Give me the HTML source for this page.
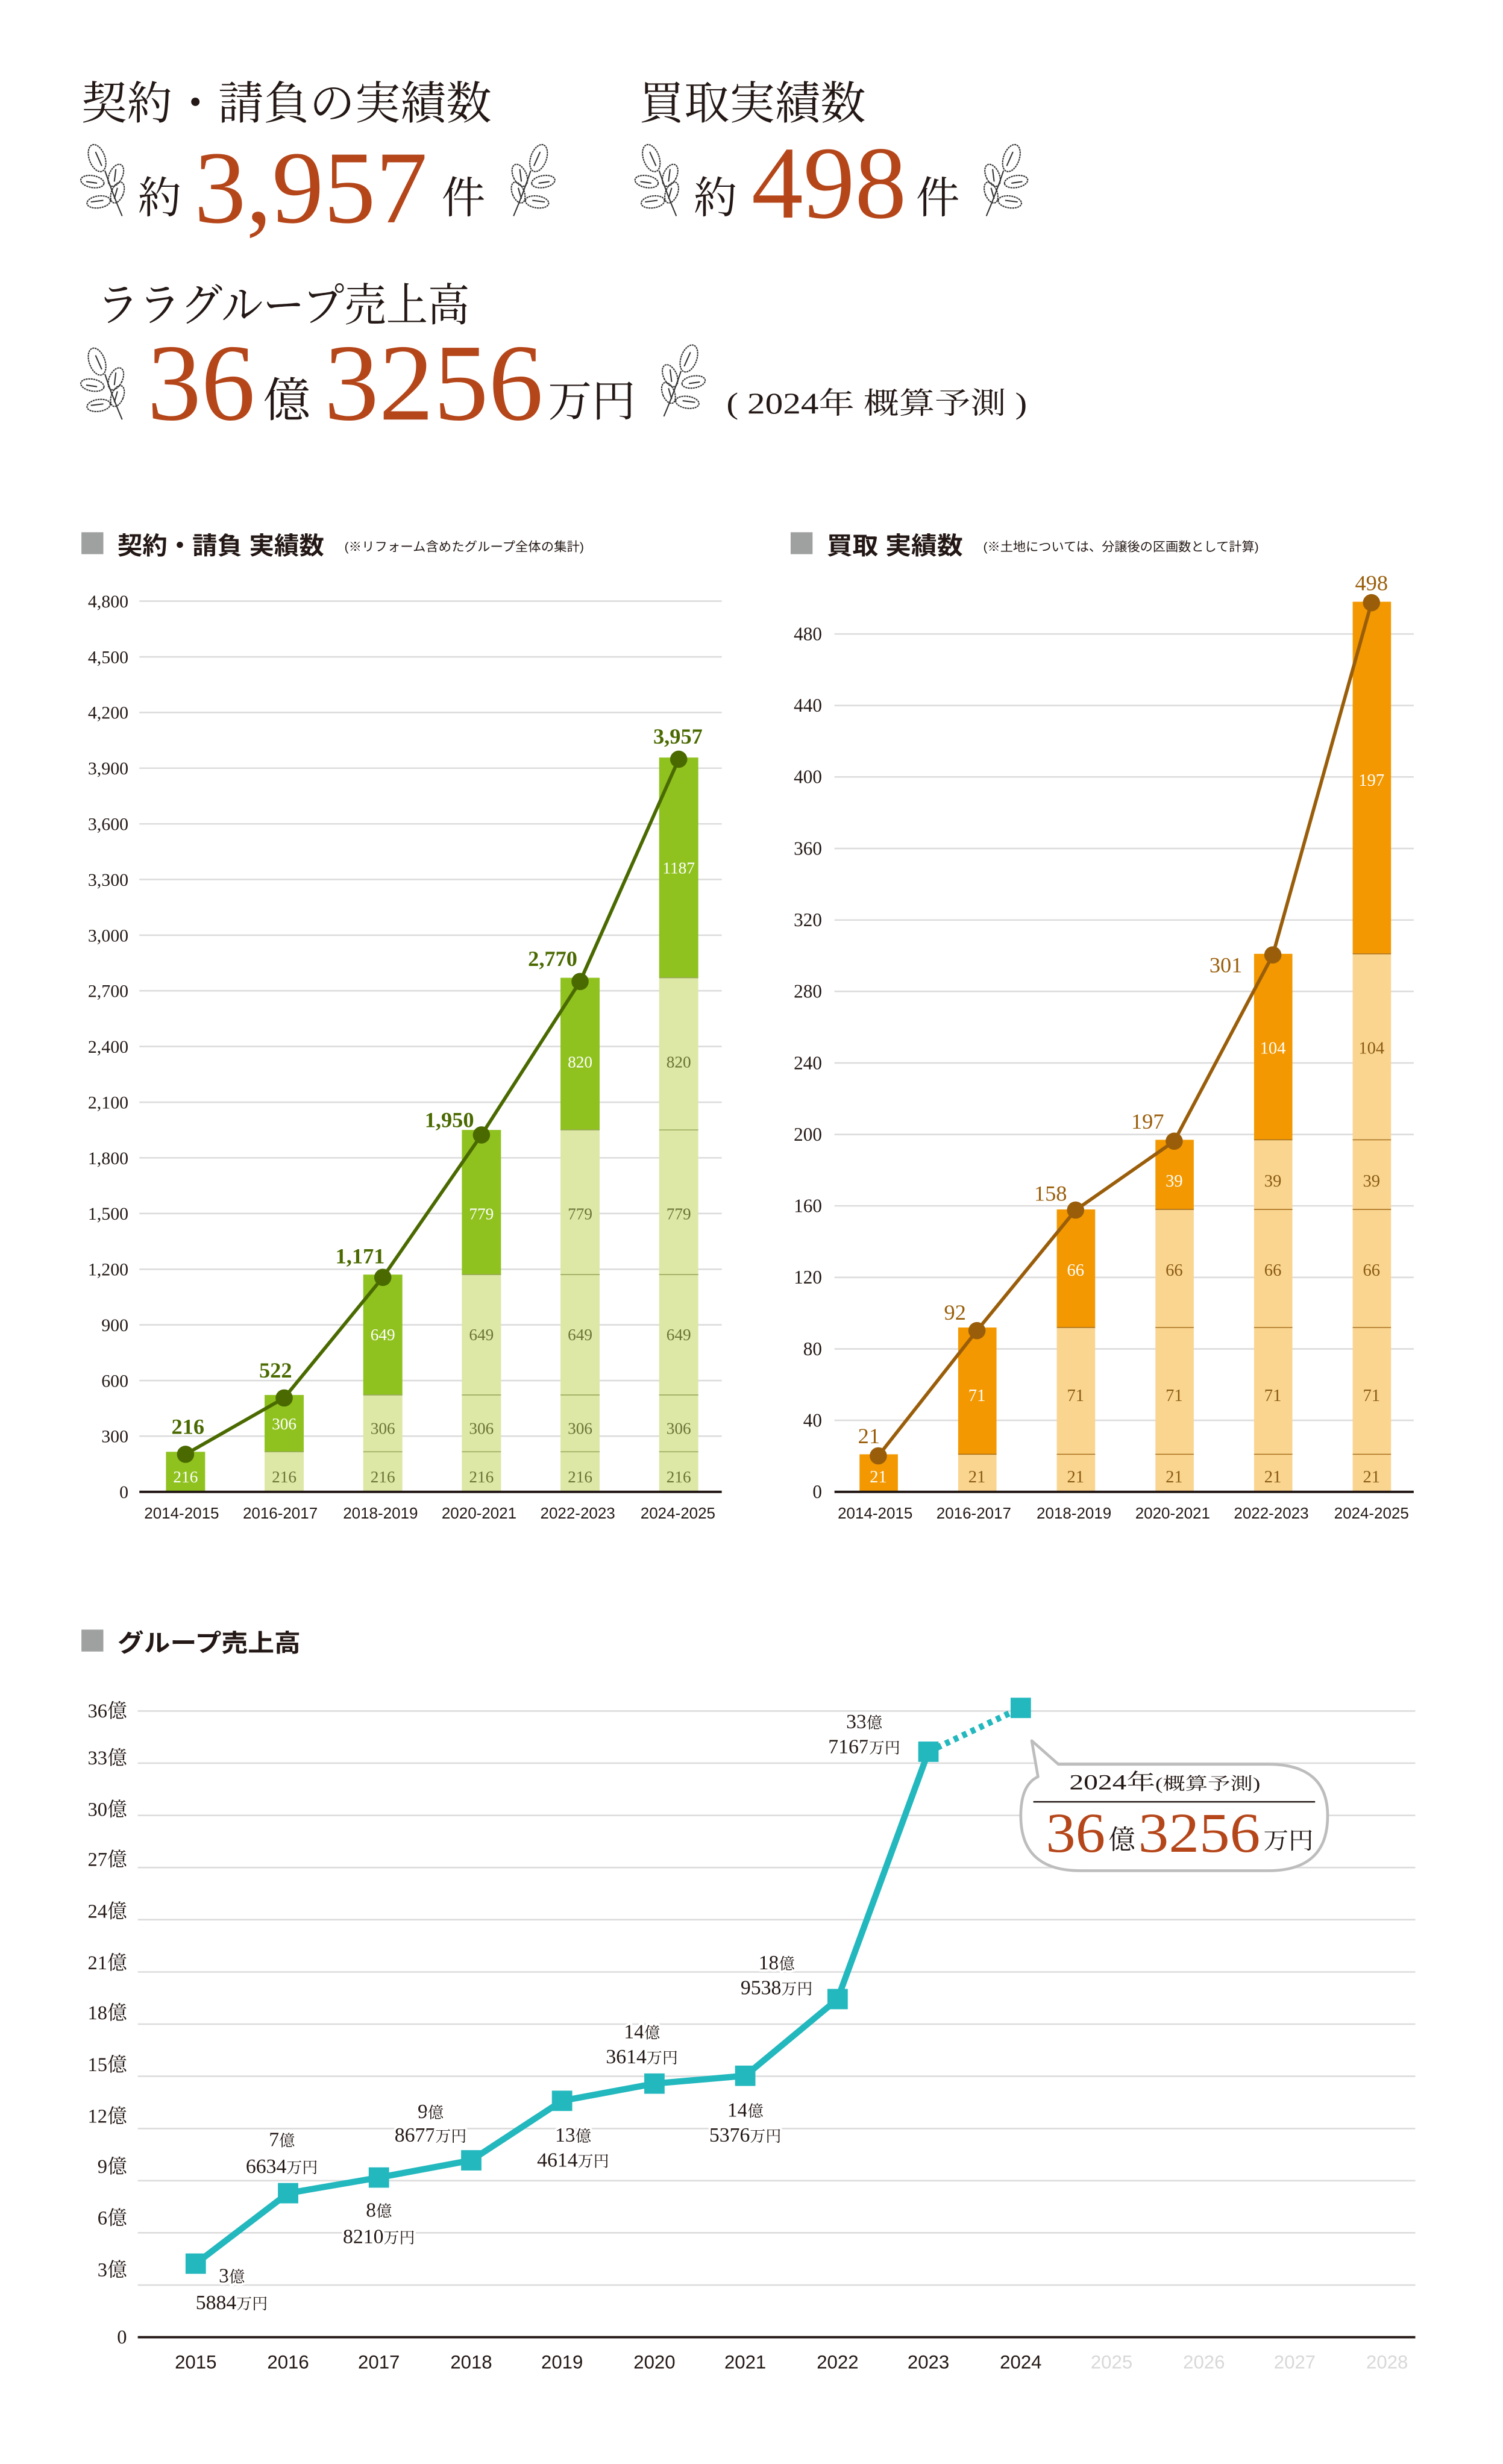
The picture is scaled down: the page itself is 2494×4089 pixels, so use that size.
<!DOCTYPE html>
<html><head><meta charset="utf-8"><style>
html,body{margin:0;padding:0;background:#fff;}
svg{display:block;}
.s{font-family:"Liberation Serif","Noto Serif CJK JP",serif;}
.g{font-family:"Liberation Sans","Noto Sans CJK JP",sans-serif;}
.h{paint-order:stroke;stroke:#fff;stroke-width:3px;stroke-linejoin:round;}
</style></head><body>
<svg width="2494" height="4089" viewBox="0 0 960 1574" xmlns="http://www.w3.org/2000/svg">
<defs>
<g id="leaf" fill="none" stroke="#333" stroke-width="0.8" stroke-dasharray="1.2 0.4">
<path d="M15 17 Q20 32 26 46" stroke-dasharray="none"/>
<ellipse cx="10" cy="9" rx="5" ry="9" transform="rotate(-20 10 9)"/>
<ellipse cx="22" cy="20" rx="4.2" ry="7.5" transform="rotate(25 22 20)"/>
<ellipse cx="7" cy="24" rx="7.5" ry="3.8" transform="rotate(10 7 24)"/>
<ellipse cx="23" cy="31" rx="3.8" ry="7" transform="rotate(22 23 31)"/>
<ellipse cx="11" cy="37" rx="7.5" ry="3.8" transform="rotate(-8 11 37)"/>
<path d="M9 5 L13 14 M22 16 L21 24 M3 24 L10 25 M23 28 L21 35 M6 37 L14 36" stroke-dasharray="none"/>
</g>
</defs>

<!-- Top headers -->
<g class="s" fill="#231815">
<text x="52" y="76" font-size="29" textLength="262" lengthAdjust="spacingAndGlyphs">契約・請負の実績数</text>
<text x="408" y="76" font-size="29" textLength="145" lengthAdjust="spacingAndGlyphs">買取実績数</text>
<text x="62" y="205" font-size="29" textLength="238" lengthAdjust="spacingAndGlyphs">ララグループ売上高</text>
</g>
<use href="#leaf" x="52" y="92"/>
<use href="#leaf" transform="translate(354,92) scale(-1,1)"/>
<use href="#leaf" x="406" y="92"/>
<use href="#leaf" transform="translate(656,92) scale(-1,1)"/>
<use href="#leaf" x="52" y="222"/>
<use href="#leaf" transform="translate(450,220) scale(-1,1)"/>
<g class="s">
<text x="88" y="136" font-size="28" fill="#231815" textLength="28" lengthAdjust="spacingAndGlyphs">約</text>
<text x="124" y="142" font-size="66" fill="#b5461a" textLength="149" lengthAdjust="spacingAndGlyphs">3,957</text>
<text x="282" y="136" font-size="28" fill="#231815" textLength="28" lengthAdjust="spacingAndGlyphs">件</text>
<text x="443" y="136" font-size="28" fill="#231815" textLength="28" lengthAdjust="spacingAndGlyphs">約</text>
<text x="480" y="139" font-size="66" fill="#b5461a" textLength="99" lengthAdjust="spacingAndGlyphs">498</text>
<text x="585" y="136" font-size="28" fill="#231815" textLength="28" lengthAdjust="spacingAndGlyphs">件</text>
<text x="94" y="268" font-size="70" fill="#b5461a" textLength="69" lengthAdjust="spacingAndGlyphs">36</text>
<text x="168" y="266" font-size="30" fill="#231815" textLength="30" lengthAdjust="spacingAndGlyphs">億</text>
<text x="207" y="268" font-size="70" fill="#b5461a" textLength="140" lengthAdjust="spacingAndGlyphs">3256</text>
<text x="350" y="266" font-size="28" fill="#231815" textLength="56" lengthAdjust="spacingAndGlyphs">万円</text>
<text x="464" y="264" font-size="19" fill="#231815" textLength="192" lengthAdjust="spacingAndGlyphs">( 2024年 概算予測 )</text>
</g>

<!-- ===== Chart 1 ===== -->
<rect x="52" y="340" width="14" height="14" fill="#9fa0a0"/>
<text class="g" x="75" y="354" font-size="15.5" font-weight="bold" fill="#231815" textLength="132" lengthAdjust="spacingAndGlyphs">契約・請負 実績数</text>
<text class="g" x="220" y="352" font-size="8" fill="#231815" textLength="153" lengthAdjust="spacingAndGlyphs">(※リフォーム含めたグループ全体の集計)</text>
<g stroke="#dcdcdc" stroke-width="1">
<line x1="89" x2="461" y1="917.4" y2="917.4"/><line x1="89" x2="461" y1="881.9" y2="881.9"/>
<line x1="89" x2="461" y1="846.3" y2="846.3"/><line x1="89" x2="461" y1="810.8" y2="810.8"/>
<line x1="89" x2="461" y1="775.2" y2="775.2"/><line x1="89" x2="461" y1="739.6" y2="739.6"/>
<line x1="89" x2="461" y1="704.1" y2="704.1"/><line x1="89" x2="461" y1="668.5" y2="668.5"/>
<line x1="89" x2="461" y1="632.9" y2="632.9"/><line x1="89" x2="461" y1="597.4" y2="597.4"/>
<line x1="89" x2="461" y1="561.8" y2="561.8"/><line x1="89" x2="461" y1="526.3" y2="526.3"/>
<line x1="89" x2="461" y1="490.7" y2="490.7"/><line x1="89" x2="461" y1="455.1" y2="455.1"/>
<line x1="89" x2="461" y1="419.6" y2="419.6"/><line x1="89" x2="461" y1="384" y2="384"/>
</g>
<g class="s" font-size="11.5" fill="#231815" text-anchor="end">
<text x="82" y="957">0</text><text x="82" y="921.4">300</text><text x="82" y="885.9">600</text>
<text x="82" y="850.3">900</text><text x="82" y="814.8">1,200</text><text x="82" y="779.2">1,500</text>
<text x="82" y="743.6">1,800</text><text x="82" y="708.1">2,100</text><text x="82" y="672.5">2,400</text>
<text x="82" y="636.9">2,700</text><text x="82" y="601.4">3,000</text><text x="82" y="565.8">3,300</text>
<text x="82" y="530.3">3,600</text><text x="82" y="494.7">3,900</text><text x="82" y="459.1">4,200</text>
<text x="82" y="423.6">4,500</text><text x="82" y="388">4,800</text>
</g>
<!-- bars chart1 -->
<g>
<rect x="106" y="927.4" width="25" height="25.6" fill="#8fc21f"/>
<rect x="169" y="927.4" width="25" height="25.6" fill="#dde8a6"/>
<rect x="169" y="891.1" width="25" height="36.3" fill="#8fc21f"/>
<rect x="232" y="891.1" width="25" height="61.9" fill="#dde8a6"/>
<rect x="232" y="814.2" width="25" height="76.9" fill="#8fc21f"/>
<rect x="295" y="814.2" width="25" height="138.8" fill="#dde8a6"/>
<rect x="295" y="721.8" width="25" height="92.4" fill="#8fc21f"/>
<rect x="358" y="721.8" width="25" height="231.2" fill="#dde8a6"/>
<rect x="358" y="624.6" width="25" height="97.2" fill="#8fc21f"/>
<rect x="421" y="624.6" width="25" height="328.4" fill="#dde8a6"/>
<rect x="421" y="483.9" width="25" height="140.7" fill="#8fc21f"/>
</g>
<g stroke="#98a85a" stroke-width="0.6">
<line x1="169" x2="194" y1="927.4" y2="927.4"/>
<line x1="232" x2="257" y1="927.4" y2="927.4"/><line x1="232" x2="257" y1="891.1" y2="891.1"/>
<line x1="295" x2="320" y1="927.4" y2="927.4"/><line x1="295" x2="320" y1="891.1" y2="891.1"/><line x1="295" x2="320" y1="814.2" y2="814.2"/>
<line x1="358" x2="383" y1="927.4" y2="927.4"/><line x1="358" x2="383" y1="891.1" y2="891.1"/><line x1="358" x2="383" y1="814.2" y2="814.2"/><line x1="358" x2="383" y1="721.8" y2="721.8"/>
<line x1="421" x2="446" y1="927.4" y2="927.4"/><line x1="421" x2="446" y1="891.1" y2="891.1"/><line x1="421" x2="446" y1="814.2" y2="814.2"/><line x1="421" x2="446" y1="721.8" y2="721.8"/><line x1="421" x2="446" y1="624.6" y2="624.6"/>
</g>
<line x1="89" x2="461" y1="953" y2="953" stroke="#231815" stroke-width="1.5"/>
<g class="s" font-size="10.5" text-anchor="middle">
<text x="118.5" y="947" fill="#fff">216</text>
<text x="181.5" y="947" fill="#6b7335">216</text><text x="181.5" y="913" fill="#fff">306</text>
<text x="244.5" y="947" fill="#6b7335">216</text><text x="244.5" y="916" fill="#6b7335">306</text><text x="244.5" y="856" fill="#fff">649</text>
<text x="307.5" y="947" fill="#6b7335">216</text><text x="307.5" y="916" fill="#6b7335">306</text><text x="307.5" y="856" fill="#6b7335">649</text><text x="307.5" y="779" fill="#fff">779</text>
<text x="370.5" y="947" fill="#6b7335">216</text><text x="370.5" y="916" fill="#6b7335">306</text><text x="370.5" y="856" fill="#6b7335">649</text><text x="370.5" y="779" fill="#6b7335">779</text><text x="370.5" y="682" fill="#fff">820</text>
<text x="433.5" y="947" fill="#6b7335">216</text><text x="433.5" y="916" fill="#6b7335">306</text><text x="433.5" y="856" fill="#6b7335">649</text><text x="433.5" y="779" fill="#6b7335">779</text><text x="433.5" y="682" fill="#6b7335">820</text><text x="433.5" y="558" fill="#fff">1187</text>
</g>
<polyline points="118.5,929 181.5,893 244.5,816 307.5,725 370.5,627 433.5,485" fill="none" stroke="#4a6a00" stroke-width="2.2"/>
<g fill="#4a6a00">
<circle cx="118.5" cy="929" r="5.5"/><circle cx="181.5" cy="893" r="5.5"/><circle cx="244.5" cy="816" r="5.5"/>
<circle cx="307.5" cy="725" r="5.5"/><circle cx="370.5" cy="627" r="5.5"/><circle cx="433.5" cy="485" r="5.5"/>
</g>
<g class="s" font-size="14" font-weight="bold" fill="#4a6a00" text-anchor="middle">
<text x="120" y="916">216</text><text x="176" y="880">522</text><text x="230" y="807">1,171</text>
<text x="287" y="720">1,950</text><text x="353" y="617">2,770</text><text x="433" y="475">3,957</text>
</g>
<g class="g" font-size="10" fill="#231815" text-anchor="middle">
<text x="116" y="970">2014-2015</text><text x="179" y="970">2016-2017</text><text x="243" y="970">2018-2019</text>
<text x="306" y="970">2020-2021</text><text x="369" y="970">2022-2023</text><text x="433" y="970">2024-2025</text>
</g>

<!-- ===== Chart 2 ===== -->
<rect x="505" y="340" width="14" height="14" fill="#9fa0a0"/>
<text class="g" x="528" y="354" font-size="15.5" font-weight="bold" fill="#231815" textLength="87" lengthAdjust="spacingAndGlyphs">買取 実績数</text>
<text class="g" x="628" y="352" font-size="8" fill="#231815" textLength="176" lengthAdjust="spacingAndGlyphs">(※土地については、分譲後の区画数として計算)</text>
<g stroke="#dcdcdc" stroke-width="1">
<line x1="533" x2="903" y1="907.3" y2="907.3"/><line x1="533" x2="903" y1="861.7" y2="861.7"/>
<line x1="533" x2="903" y1="816" y2="816"/><line x1="533" x2="903" y1="770.3" y2="770.3"/>
<line x1="533" x2="903" y1="724.7" y2="724.7"/><line x1="533" x2="903" y1="679" y2="679"/>
<line x1="533" x2="903" y1="633.3" y2="633.3"/><line x1="533" x2="903" y1="587.7" y2="587.7"/>
<line x1="533" x2="903" y1="542" y2="542"/><line x1="533" x2="903" y1="496.3" y2="496.3"/>
<line x1="533" x2="903" y1="450.7" y2="450.7"/><line x1="533" x2="903" y1="405" y2="405"/>
</g>
<g class="s" font-size="12" fill="#231815" text-anchor="end">
<text x="525" y="957">0</text><text x="525" y="911.3">40</text><text x="525" y="865.7">80</text>
<text x="525" y="820">120</text><text x="525" y="774.3">160</text><text x="525" y="728.7">200</text>
<text x="525" y="683">240</text><text x="525" y="637.3">280</text><text x="525" y="591.7">320</text>
<text x="525" y="546">360</text><text x="525" y="500.3">400</text><text x="525" y="454.7">440</text>
<text x="525" y="409">480</text>
</g>
<g>
<rect x="549" y="929" width="24.5" height="24" fill="#f39800"/>
<rect x="612" y="929" width="24.5" height="24" fill="#fad590"/>
<rect x="612" y="848" width="24.5" height="81" fill="#f39800"/>
<rect x="675" y="848" width="24.5" height="105" fill="#fad590"/>
<rect x="675" y="772.6" width="24.5" height="75.4" fill="#f39800"/>
<rect x="738" y="772.6" width="24.5" height="180.4" fill="#fad590"/>
<rect x="738" y="728.1" width="24.5" height="44.5" fill="#f39800"/>
<rect x="801" y="728.1" width="24.5" height="224.9" fill="#fad590"/>
<rect x="801" y="609.3" width="24.5" height="118.8" fill="#f39800"/>
<rect x="864" y="609.3" width="24.5" height="343.7" fill="#fad590"/>
<rect x="864" y="384.4" width="24.5" height="224.9" fill="#f39800"/>
</g>
<g stroke="#a8701e" stroke-width="0.6">
<line x1="612" x2="636.5" y1="929" y2="929"/>
<line x1="675" x2="699.5" y1="929" y2="929"/><line x1="675" x2="699.5" y1="848" y2="848"/>
<line x1="738" x2="762.5" y1="929" y2="929"/><line x1="738" x2="762.5" y1="848" y2="848"/><line x1="738" x2="762.5" y1="772.6" y2="772.6"/>
<line x1="801" x2="825.5" y1="929" y2="929"/><line x1="801" x2="825.5" y1="848" y2="848"/><line x1="801" x2="825.5" y1="772.6" y2="772.6"/><line x1="801" x2="825.5" y1="728.1" y2="728.1"/>
<line x1="864" x2="888.5" y1="929" y2="929"/><line x1="864" x2="888.5" y1="848" y2="848"/><line x1="864" x2="888.5" y1="772.6" y2="772.6"/><line x1="864" x2="888.5" y1="728.1" y2="728.1"/><line x1="864" x2="888.5" y1="609.3" y2="609.3"/>
</g>
<line x1="533" x2="903" y1="953" y2="953" stroke="#231815" stroke-width="1.5"/>
<g class="s" font-size="11" text-anchor="middle">
<text x="561" y="947" fill="#fff">21</text>
<text x="624" y="947" fill="#8a5a10">21</text><text x="624" y="895" fill="#fff">71</text>
<text x="687" y="947" fill="#8a5a10">21</text><text x="687" y="895" fill="#8a5a10">71</text><text x="687" y="815" fill="#fff">66</text>
<text x="750" y="947" fill="#8a5a10">21</text><text x="750" y="895" fill="#8a5a10">71</text><text x="750" y="815" fill="#8a5a10">66</text><text x="750" y="758" fill="#fff">39</text>
<text x="813" y="947" fill="#8a5a10">21</text><text x="813" y="895" fill="#8a5a10">71</text><text x="813" y="815" fill="#8a5a10">66</text><text x="813" y="758" fill="#8a5a10">39</text><text x="813" y="673" fill="#fff">104</text>
<text x="876" y="947" fill="#8a5a10">21</text><text x="876" y="895" fill="#8a5a10">71</text><text x="876" y="815" fill="#8a5a10">66</text><text x="876" y="758" fill="#8a5a10">39</text><text x="876" y="673" fill="#8a5a10">104</text><text x="876" y="502" fill="#fff">197</text>
</g>
<polyline points="561,930 624,850 687,773 750,729 813,610 876,385" fill="none" stroke="#9a5e0a" stroke-width="2.2"/>
<g fill="#9a5e0a">
<circle cx="561" cy="930" r="5.5"/><circle cx="624" cy="850" r="5.5"/><circle cx="687" cy="773" r="5.5"/>
<circle cx="750" cy="729" r="5.5"/><circle cx="813" cy="610" r="5.5"/><circle cx="876" cy="385" r="5.5"/>
</g>
<g class="s" font-size="14" fill="#9a5e0a" text-anchor="middle">
<text x="555" y="922">21</text><text x="610" y="843">92</text><text x="671" y="767">158</text>
<text x="733" y="721">197</text><text x="783" y="621">301</text><text x="876" y="377">498</text>
</g>
<g class="g" font-size="10" fill="#231815" text-anchor="middle">
<text x="559" y="970">2014-2015</text><text x="622" y="970">2016-2017</text><text x="686" y="970">2018-2019</text>
<text x="749" y="970">2020-2021</text><text x="812" y="970">2022-2023</text><text x="876" y="970">2024-2025</text>
</g>

<!-- ===== Chart 3 ===== -->
<rect x="52" y="1041" width="14" height="14" fill="#9fa0a0"/>
<text class="g" x="75" y="1055" font-size="15.5" font-weight="bold" fill="#231815" textLength="117" lengthAdjust="spacingAndGlyphs">グループ売上高</text>
<g stroke="#dcdcdc" stroke-width="1">
<line x1="88" x2="904" y1="1459.7" y2="1459.7"/><line x1="88" x2="904" y1="1426.3" y2="1426.3"/>
<line x1="88" x2="904" y1="1393" y2="1393"/><line x1="88" x2="904" y1="1359.7" y2="1359.7"/>
<line x1="88" x2="904" y1="1326.3" y2="1326.3"/><line x1="88" x2="904" y1="1293" y2="1293"/>
<line x1="88" x2="904" y1="1259.7" y2="1259.7"/><line x1="88" x2="904" y1="1226.3" y2="1226.3"/>
<line x1="88" x2="904" y1="1193" y2="1193"/><line x1="88" x2="904" y1="1159.7" y2="1159.7"/>
<line x1="88" x2="904" y1="1126.3" y2="1126.3"/><line x1="88" x2="904" y1="1093" y2="1093"/>
</g>
<line x1="88" x2="904" y1="1493" y2="1493" stroke="#231815" stroke-width="1.5"/>
<g class="s" font-size="12.5" fill="#231815" text-anchor="end">
<text x="81" y="1497">0</text><text x="81" y="1454">3億</text><text x="81" y="1421">6億</text>
<text x="81" y="1388">9億</text><text x="81" y="1356">12億</text><text x="81" y="1323">15億</text>
<text x="81" y="1290">18億</text><text x="81" y="1258">21億</text><text x="81" y="1225">24億</text>
<text x="81" y="1192">27億</text><text x="81" y="1160">30億</text><text x="81" y="1127">33億</text>
<text x="81" y="1097">36億</text>
</g>
<g class="g" font-size="12" text-anchor="middle" fill="#231815">
<text x="125" y="1513">2015</text><text x="184" y="1513">2016</text><text x="242" y="1513">2017</text>
<text x="301" y="1513">2018</text><text x="359" y="1513">2019</text><text x="418" y="1513">2020</text>
<text x="476" y="1513">2021</text><text x="535" y="1513">2022</text><text x="593" y="1513">2023</text>
<text x="652" y="1513">2024</text>
<text x="710" y="1513" fill="#d8d8d8">2025</text><text x="769" y="1513" fill="#d8d8d8">2026</text>
<text x="827" y="1513" fill="#d8d8d8">2027</text><text x="886" y="1513" fill="#d8d8d8">2028</text>
</g>
<polyline points="125,1446 184,1401 242,1391 301,1380 359,1342 418,1331 476,1326 535,1277 593,1119" fill="none" stroke="#22b8be" stroke-width="4"/>
<line x1="593" y1="1119" x2="652" y2="1091" stroke="#22b8be" stroke-width="4" stroke-dasharray="3 3"/>
<g fill="#22b8be">
<rect x="118.5" y="1439.5" width="13" height="13"/><rect x="177.5" y="1394.5" width="13" height="13"/>
<rect x="235.5" y="1384.5" width="13" height="13"/><rect x="294.5" y="1373.5" width="13" height="13"/>
<rect x="352.5" y="1335.5" width="13" height="13"/><rect x="411.5" y="1324.5" width="13" height="13"/>
<rect x="469.5" y="1319.5" width="13" height="13"/><rect x="528.5" y="1270.5" width="13" height="13"/>
<rect x="586.5" y="1112.5" width="13" height="13"/><rect x="645.5" y="1084.5" width="13" height="13"/>
</g>
<g class="s h" font-size="13" fill="#231815" text-anchor="middle">
<text x="148" y="1458">3<tspan font-size="10">億</tspan></text><text x="148" y="1475">5884<tspan font-size="10">万円</tspan></text>
<text x="180" y="1371">7<tspan font-size="10">億</tspan></text><text x="180" y="1388">6634<tspan font-size="10">万円</tspan></text>
<text x="242" y="1416">8<tspan font-size="10">億</tspan></text><text x="242" y="1433">8210<tspan font-size="10">万円</tspan></text>
<text x="275" y="1353">9<tspan font-size="10">億</tspan></text><text x="275" y="1368">8677<tspan font-size="10">万円</tspan></text>
<text x="366" y="1368">13<tspan font-size="10">億</tspan></text><text x="366" y="1384">4614<tspan font-size="10">万円</tspan></text>
<text x="410" y="1302">14<tspan font-size="10">億</tspan></text><text x="410" y="1318">3614<tspan font-size="10">万円</tspan></text>
<text x="476" y="1352">14<tspan font-size="10">億</tspan></text><text x="476" y="1368">5376<tspan font-size="10">万円</tspan></text>
<text x="496" y="1258">18<tspan font-size="10">億</tspan></text><text x="496" y="1274">9538<tspan font-size="10">万円</tspan></text>
<text x="552" y="1104">33<tspan font-size="10">億</tspan></text><text x="552" y="1120">7167<tspan font-size="10">万円</tspan></text>
</g>
<!-- callout -->
<path d="M659 1112 L676 1127 L810 1127 Q848 1127 848 1160 Q848 1195 810 1195 L690 1195 Q652 1195 652 1160 Q652 1140 663 1135 Z" fill="#fff" stroke="#bdbdbd" stroke-width="1.8" stroke-linejoin="round"/>
<text class="s" x="683" y="1143" font-size="14" fill="#231815" textLength="122" lengthAdjust="spacingAndGlyphs">2024年<tspan font-size="11">(概算予測)</tspan></text>
<line x1="660" x2="840" y1="1151" y2="1151" stroke="#231815" stroke-width="1"/>
<g class="s">
<text x="668" y="1183" font-size="36" fill="#b5461a" textLength="38" lengthAdjust="spacingAndGlyphs">36</text>
<text x="708" y="1181" font-size="17" fill="#231815">億</text>
<text x="727" y="1183" font-size="36" fill="#b5461a" textLength="78" lengthAdjust="spacingAndGlyphs">3256</text>
<text x="807" y="1181" font-size="15" fill="#231815" textLength="32" lengthAdjust="spacingAndGlyphs">万円</text>
</g>
</svg>
</body></html>
